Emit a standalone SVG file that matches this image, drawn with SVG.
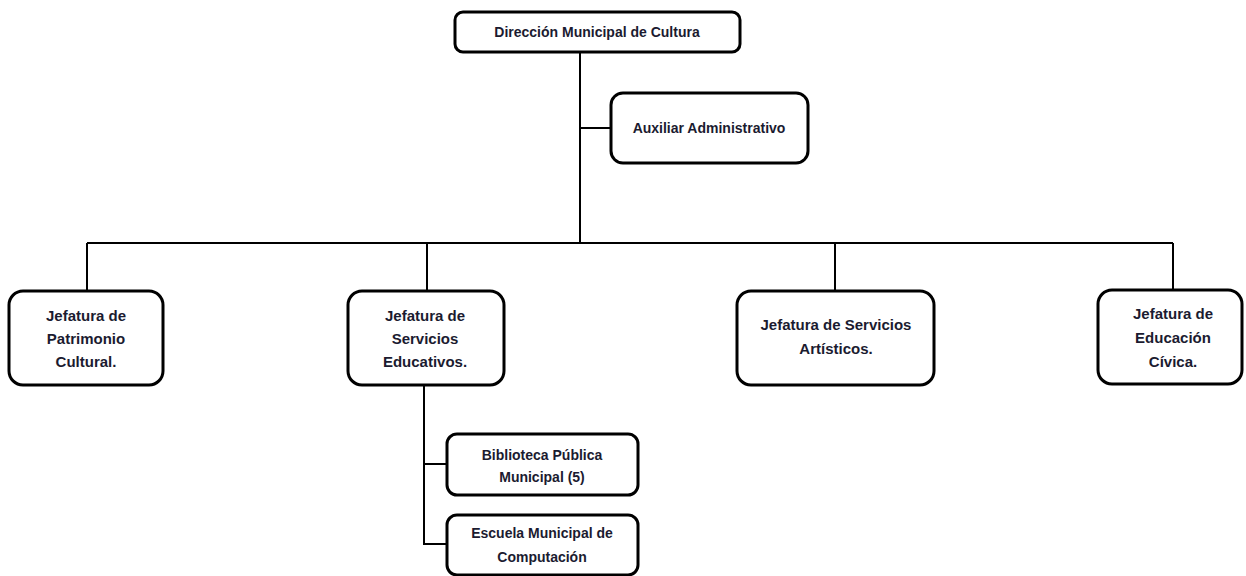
<svg xmlns="http://www.w3.org/2000/svg" width="1246" height="576" viewBox="0 0 1246 576">
  <style>
    .box { fill: #ffffff; stroke: #000000; stroke-width: 3; }
    .wire { fill: none; stroke: #000000; stroke-width: 2; }
    text { font-family: "Liberation Sans", Arial, sans-serif; font-weight: bold; fill: #1b1b30; text-anchor: middle; }
    .sm { font-size: 14px; }
    .lg { font-size: 15px; }
  </style>
  <rect width="1246" height="576" fill="#ffffff"/>

  <!-- connectors -->
  <g id="connectors">
    <path class="wire" d="M580 53 V243"/>
    <path class="wire" d="M580 128 H611"/>
    <path class="wire" d="M87 243 H1173"/>
    <path class="wire" d="M87 243 V291"/>
    <path class="wire" d="M427 243 V291"/>
    <path class="wire" d="M835 243 V291"/>
    <path class="wire" d="M1173 243 V290"/>
    <path class="wire" d="M424 385 V544 H447"/>
    <path class="wire" d="M424 464 H447"/>
  </g>

  <g id="direccion">
    <rect class="box" x="455" y="12" width="285" height="40" rx="8"/>
    <text class="sm" x="597" y="37">Dirección Municipal de Cultura</text>
  </g>

  <g id="auxiliar">
    <rect class="box" x="611" y="93" width="197" height="70" rx="12"/>
    <text class="sm" x="709" y="133">Auxiliar Administrativo</text>
  </g>

  <g id="patrimonio">
    <rect class="box" x="9" y="291" width="154" height="94" rx="14"/>
    <text class="lg" x="86" y="321">Jefatura de</text>
    <text class="lg" x="86" y="344">Patrimonio</text>
    <text class="lg" x="86" y="367">Cultural.</text>
  </g>

  <g id="educativos">
    <rect class="box" x="348" y="291" width="156" height="94" rx="14"/>
    <text class="lg" x="425" y="321">Jefatura de</text>
    <text class="lg" x="425" y="344">Servicios</text>
    <text class="lg" x="425" y="367">Educativos.</text>
  </g>

  <g id="artisticos">
    <rect class="box" x="737" y="291" width="197" height="94" rx="14"/>
    <text class="lg" x="836" y="330">Jefatura de Servicios</text>
    <text class="lg" x="836" y="354">Artísticos.</text>
  </g>

  <g id="civica">
    <rect class="box" x="1098" y="290" width="144" height="94" rx="14"/>
    <text class="lg" x="1173" y="319">Jefatura de</text>
    <text class="lg" x="1173" y="343">Educación</text>
    <text class="lg" x="1173" y="367">Cívica.</text>
  </g>

  <g id="biblioteca">
    <rect class="box" x="447" y="434" width="191" height="61" rx="10"/>
    <text class="sm" x="542" y="460">Biblioteca Pública</text>
    <text class="sm" x="542" y="482">Municipal (5)</text>
  </g>

  <g id="computacion">
    <rect class="box" x="447" y="515" width="191" height="60" rx="10"/>
    <text class="sm" x="542" y="538">Escuela Municipal de</text>
    <text class="sm" x="542" y="562">Computación</text>
  </g>
</svg>
